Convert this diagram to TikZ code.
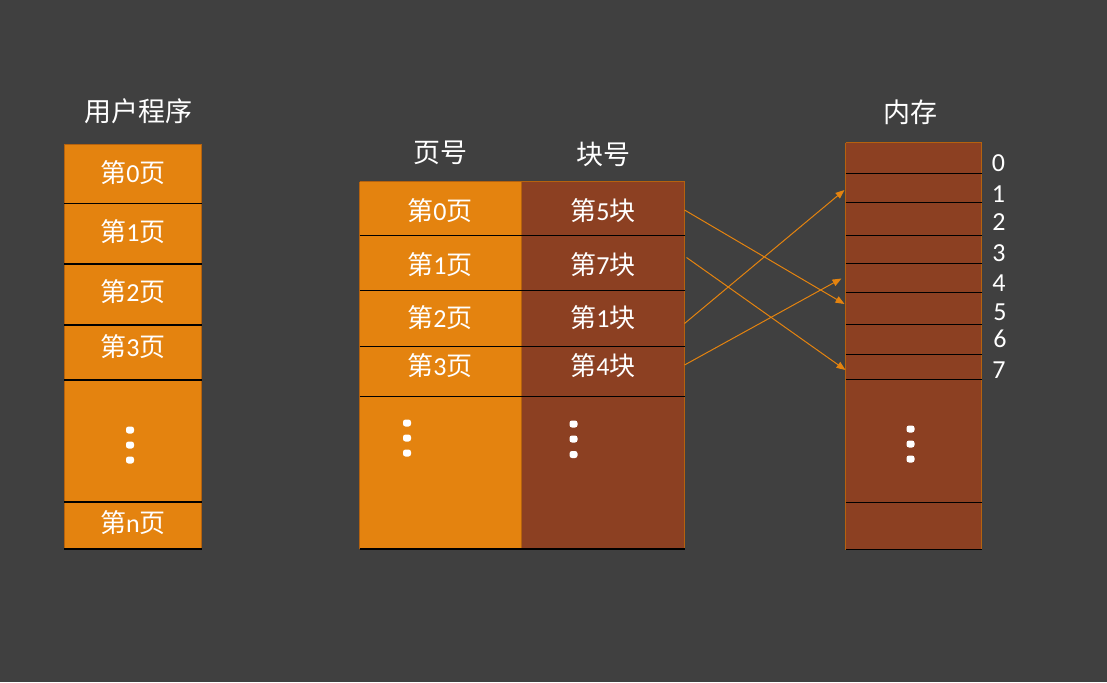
\documentclass[tikz,border=0pt]{standalone}
\usepackage{fontspec}
\setmainfont{Carlito}
\newfontfamily\cjk{Noto Sans CJK SC}
\usetikzlibrary{arrows.meta,calc}
\definecolor{bg}{HTML}{404040}
\definecolor{org}{HTML}{E4830F}
\definecolor{brn}{HTML}{8C4022}
\definecolor{edgec}{HTML}{B5620E}
\definecolor{arr}{HTML}{E4830F}
\newcommand\cj[1]{{\cjk #1}}
\begin{document}
\begin{tikzpicture}[x=1pt,y=-1pt,
  txt/.style={text=white,font=\fontsize{26}{30}\selectfont,inner sep=0pt,anchor=center},
  ttl/.style={text=white,font=\fontsize{27}{31}\selectfont,inner sep=0pt,anchor=center},
  ocell/.style={rectangle,fill=org,draw=none,inner sep=0pt,outer sep=0pt,anchor=north west},
  bcell/.style={rectangle,fill=brn,draw=none,inner sep=0pt,outer sep=0pt,anchor=north west},
  sep/.style={black,line width=1.2pt},
  rim/.style={edgec,line width=1pt},
  dotm/.style={white,rounded corners=2.5pt},
  link/.style={arr,line width=1pt,-{Triangle[length=9pt,width=7pt]}}
]
\fill[bg] (0,0) rectangle (1107,682);
\useasboundingbox (0,0) rectangle (1107,682);

% ---------- user program column ----------
\node[ttl] (tU) at (138,111) {\cj{用户程序}};
\node[ocell,minimum width=137.5pt,minimum height=59.5pt] (u0) at (64,144) {};
\node[ocell,minimum width=137.5pt,minimum height=60.5pt] (u1) at (64,203.5) {};
\node[ocell,minimum width=137.5pt,minimum height=61pt] (u2) at (64,264) {};
\node[ocell,minimum width=137.5pt,minimum height=55pt] (u3) at (64,325) {};
\node[ocell,minimum width=137.5pt,minimum height=122pt] (ud) at (64,380) {};
\node[ocell,minimum width=137.5pt,minimum height=47pt] (un) at (64,502) {};
\draw[rim] (u0.north west) -- (u0.north east);
\draw[rim] (u0.north west) -- (un.south west);
\draw[rim] (u0.north east) -- (un.south east);
\foreach \c in {u0,u1,u2,u3,ud,un}{\draw[sep] (\c.south west) -- (\c.south east);}
\node[txt] (u0t) at (133,173) {\cj{第}0\cj{页}};
\node[txt] (u1t) at (133,232) {\cj{第}1\cj{页}};
\node[txt] (u2t) at (133,292) {\cj{第}2\cj{页}};
\node[txt] (u3t) at (133,347) {\cj{第}3\cj{页}};
\node[txt] (unt) at (133,523) {\cj{第}n\cj{页}};
\foreach \yy in {430,445,460}{\fill[dotm] (126,\yy-3.5) rectangle (134,\yy+3.5);}

% ---------- page table ----------
\node[ttl] (tP) at (440,153) {\cj{页号}};
\node[ttl] (tB) at (603,154) {\cj{块号}};
\node[ocell,minimum width=162pt,minimum height=54pt] (p0) at (359.5,181.5) {};
\node[ocell,minimum width=162pt,minimum height=55pt] (p1) at (359.5,235.5) {};
\node[ocell,minimum width=162pt,minimum height=56pt] (p2) at (359.5,290.5) {};
\node[ocell,minimum width=162pt,minimum height=50pt] (p3) at (359.5,346.5) {};
\node[ocell,minimum width=162pt,minimum height=152.5pt] (pd) at (359.5,396.5) {};
\node[bcell,minimum width=163pt,minimum height=54pt] (b5) at (521.5,181.5) {};
\node[bcell,minimum width=163pt,minimum height=55pt] (b7) at (521.5,235.5) {};
\node[bcell,minimum width=163pt,minimum height=56pt] (b1) at (521.5,290.5) {};
\node[bcell,minimum width=163pt,minimum height=50pt] (b4) at (521.5,346.5) {};
\node[bcell,minimum width=163pt,minimum height=152.5pt] (bd) at (521.5,396.5) {};
\draw[rim] (p0.north west) -- (b5.north east);
\draw[rim] (p0.north west) -- (pd.south west);
\draw[rim] (p0.north east) -- (pd.south east);
\draw[rim] (b5.north east) -- (bd.south east);
\foreach \c in {p0,p1,p2,p3,pd}{\draw[sep] (\c.south west) -- (\c.south east);}
\foreach \c in {b5,b7,b1,b4,bd}{\draw[sep] (\c.south west) -- (\c.south east);}
\node[txt] (p0t) at (440,210.5) {\cj{第}0\cj{页}};
\node[txt] (p1t) at (440,265) {\cj{第}1\cj{页}};
\node[txt] (p2t) at (440,318) {\cj{第}2\cj{页}};
\node[txt] (p3t) at (440,366) {\cj{第}3\cj{页}};
\node[txt] (b5t) at (603,210.5) {\cj{第}5\cj{块}};
\node[txt] (b7t) at (603,265) {\cj{第}7\cj{块}};
\node[txt] (b1t) at (603,318) {\cj{第}1\cj{块}};
\node[txt] (b4t) at (603,366) {\cj{第}4\cj{块}};
\foreach \yy in {423,438,453}{\fill[dotm] (403,\yy-3.5) rectangle (411,\yy+3.5);}
\foreach \yy in {424,439,454.5}{\fill[dotm] (569.5,\yy-3.5) rectangle (577.5,\yy+3.5);}

% ---------- memory ----------
\node[ttl] (tM) at (910,112) {\cj{内存}};
\node[bcell,minimum width=136pt,minimum height=31pt] (m0) at (845.5,142.5) {};
\node[bcell,minimum width=136pt,minimum height=29pt] (m1) at (845.5,173.5) {};
\node[bcell,minimum width=136pt,minimum height=33pt] (m2) at (845.5,202.5) {};
\node[bcell,minimum width=136pt,minimum height=28pt] (m3) at (845.5,235.5) {};
\node[bcell,minimum width=136pt,minimum height=29pt] (m4) at (845.5,263.5) {};
\node[bcell,minimum width=136pt,minimum height=32pt] (m5) at (845.5,292.5) {};
\node[bcell,minimum width=136pt,minimum height=30pt] (m6) at (845.5,324.5) {};
\node[bcell,minimum width=136pt,minimum height=25pt] (m7) at (845.5,354.5) {};
\node[bcell,minimum width=136pt,minimum height=123pt] (md) at (845.5,379.5) {};
\node[bcell,minimum width=136pt,minimum height=47pt] (mn) at (845.5,502.5) {};
\draw[rim] (m0.north west) -- (m0.north east);
\draw[rim] (m0.north west) -- (mn.south west);
\draw[rim] (m0.north east) -- (mn.south east);
\foreach \c in {m0,m1,m2,m3,m4,m5,m6,m7,md,mn}{\draw[sep] (\c.south west) -- (\c.south east);}
\foreach \yy in {429,444,459}{\fill[dotm] (906.5,\yy-3.5) rectangle (914.5,\yy+3.5);}
\node[txt] (l0) at (998.5,163) {0};
\node[txt] (l1) at (998.5,194) {1};
\node[txt] (l2) at (999,222) {2};
\node[txt] (l3) at (999,253) {3};
\node[txt] (l4) at (999,283) {4};
\node[txt] (l5) at (1000,312) {5};
\node[txt] (l6) at (1000,339) {6};
\node[txt] (l7) at (999,370) {7};

% ---------- links ----------
\draw[link] ($(b5.north east)+(0,28.5)$) -- ($(m5.north west)+(-1,11.5)$);
\draw[link] ($(b7.north east)+(2,22)$) -- ($(m7.north west)+(0,15.5)$);
\draw[link] ($(b1.north east)+(0,33)$) -- ($(m1.north west)+(-1,16.5)$);
\draw[link] ($(b4.north east)+(0,18.5)$) -- ($(m4.north west)+(-4,15)$);
\end{tikzpicture}
\end{document}
